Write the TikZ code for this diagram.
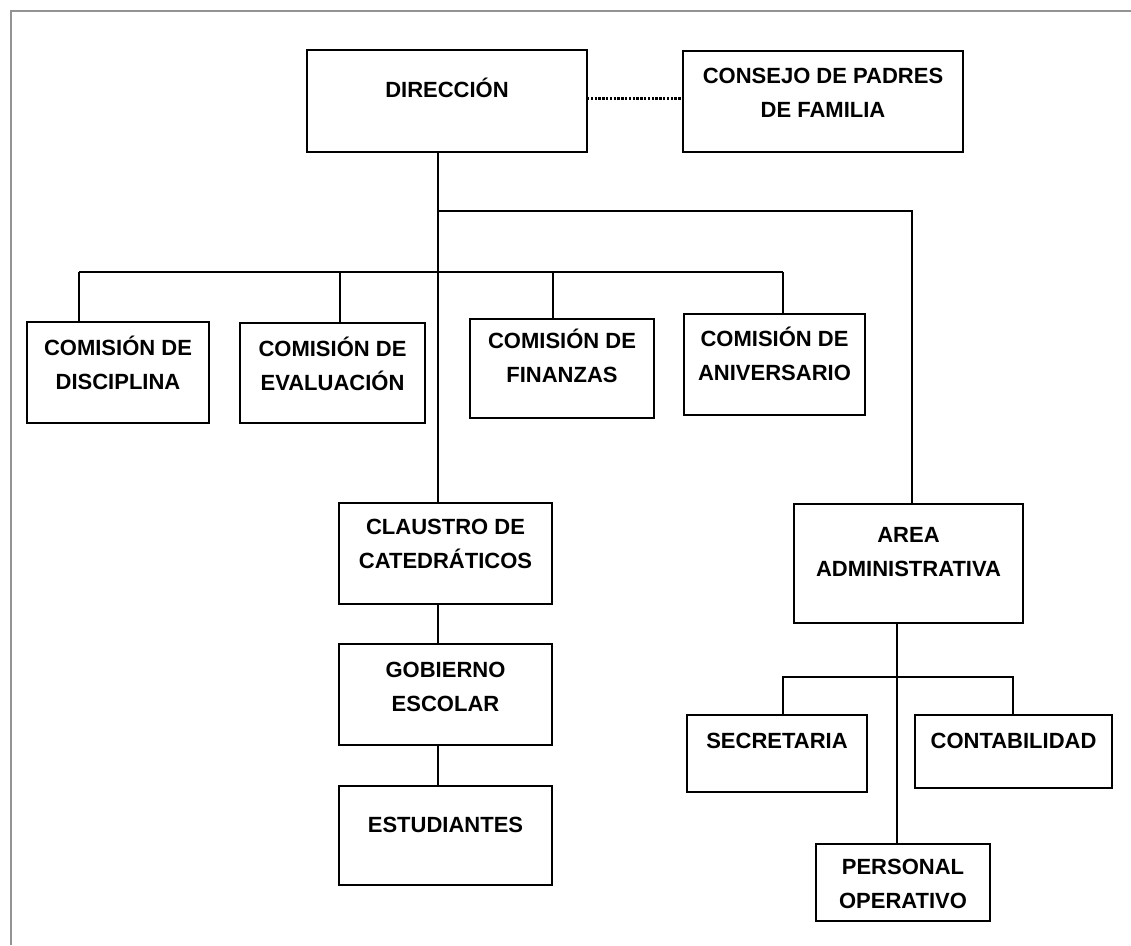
\documentclass[tikz,border=0pt]{standalone}
\usepackage{fontspec}
\setmainfont{Liberation Sans}
\tikzset{
  box/.style={draw=black, line width=2.8pt, inner sep=0pt, outer sep=0pt, anchor=north west},
  txt/.style={anchor=north, inner sep=0pt, outer sep=0pt, align=center, text=black, font=\fontsize{22}{34}\selectfont\bfseries},
  conn/.style={draw=black, line width=2.3pt},
  dots/.style={draw=black, line width=3pt, dash pattern=on 2.4pt off 1.4pt},
  frameline/.style={line width=2pt, draw=gray!85}
}
\begin{document}
\begin{tikzpicture}[x=1pt,y=1pt]
\useasboundingbox (0,0) rectangle (1131,-945);
\draw[frameline] (11,-945) -- (11,-11) -- (1131,-11);

% boxes
\node[box, minimum width=280pt, minimum height=102pt] (dir) at (307,-50) {};
\node[txt] (dirT) at ([yshift=-24pt]dir.north) {\strut DIRECCIÓN};
\node[box, minimum width=280pt, minimum height=101pt] (cons) at (683,-51) {};
\node[txt] (consT) at ([yshift=-9pt]cons.north) {\strut CONSEJO DE PADRES\\DE FAMILIA};

\node[box, minimum width=182pt, minimum height=101pt] (disc) at (27,-322) {};
\node[txt] (discT) at ([yshift=-10pt]disc.north) {\strut COMISIÓN DE\\DISCIPLINA};
\node[box, minimum width=185pt, minimum height=100pt] (eval) at (240,-323) {};
\node[txt] (evalT) at ([yshift=-10pt]eval.north) {\strut COMISIÓN DE\\EVALUACIÓN};
\node[box, minimum width=184pt, minimum height=99pt] (fin) at (470,-319) {};
\node[txt] (finT) at ([yshift=-6pt]fin.north) {\strut COMISIÓN DE\\FINANZAS};
\node[box, minimum width=181pt, minimum height=101pt] (aniv) at (684,-314) {};
\node[txt] (anivT) at ([yshift=-9pt]aniv.north) {\strut COMISIÓN DE\\ANIVERSARIO};

\node[box, minimum width=213pt, minimum height=101pt] (claus) at (339,-503) {};
\node[txt] (clausT) at ([yshift=-8pt]claus.north) {\strut CLAUSTRO DE\\CATEDRÁTICOS};
\node[box, minimum width=213pt, minimum height=101pt] (gob) at (339,-644) {};
\node[txt] (gobT) at ([yshift=-10pt]gob.north) {\strut GOBIERNO\\ESCOLAR};
\node[box, minimum width=213pt, minimum height=99pt] (est) at (339,-786) {};
\node[txt] (estT) at ([yshift=-23pt]est.north) {\strut ESTUDIANTES};

\node[box, minimum width=229pt, minimum height=119pt] (area) at (794,-504) {};
\node[txt] (areaT) at ([yshift=-15pt]area.north) {\strut AREA\\ADMINISTRATIVA};
\node[box, minimum width=180pt, minimum height=77pt] (sec) at (687,-715) {};
\node[txt] (secT) at ([yshift=-10pt]sec.north) {\strut SECRETARIA};
\node[box, minimum width=197pt, minimum height=73pt] (cont) at (915,-715) {};
\node[txt] (contT) at ([yshift=-10pt]cont.north) {\strut CONTABILIDAD};
\node[box, minimum width=174pt, minimum height=77pt] (pers) at (816,-844) {};
\node[txt] (persT) at ([yshift=-7pt]pers.north) {\strut PERSONAL\\OPERATIVO};

% junction coordinates
\coordinate (jA) at (438,-211);
\coordinate (jR) at (912,-211);
\coordinate (bl) at (79,-272);
\coordinate (cE) at (340,-272);
\coordinate (cF) at (553,-272);
\coordinate (br) at (783,-272);
\coordinate (jS) at (897,-677);
\coordinate (sl) at (783,-677);
\coordinate (sr) at (1013,-677);

% connectors
\draw[dots] ([yshift=3pt]dir.east) -- ([yshift=3pt]dir.east -| cons.west);
\draw[conn] (dir.south -| jA) -- (claus.north -| jA);
\draw[conn] (jA) -- (jR) -- (area.north -| jR);
\draw[conn] (bl) -- (br);
\draw[conn] (bl) -- (disc.north -| bl);
\draw[conn] (cE) -- (eval.north -| cE);
\draw[conn] (cF) -- (fin.north -| cF);
\draw[conn] (br) -- (aniv.north -| br);
\draw[conn] (claus.south -| jA) -- (gob.north -| jA);
\draw[conn] (gob.south -| jA) -- (est.north -| jA);
\draw[conn] (area.south -| jS) -- (pers.north -| jS);
\draw[conn] (sec.north -| sl) -- (sl) -- (sr) -- (cont.north -| sr);
\end{tikzpicture}
\end{document}
